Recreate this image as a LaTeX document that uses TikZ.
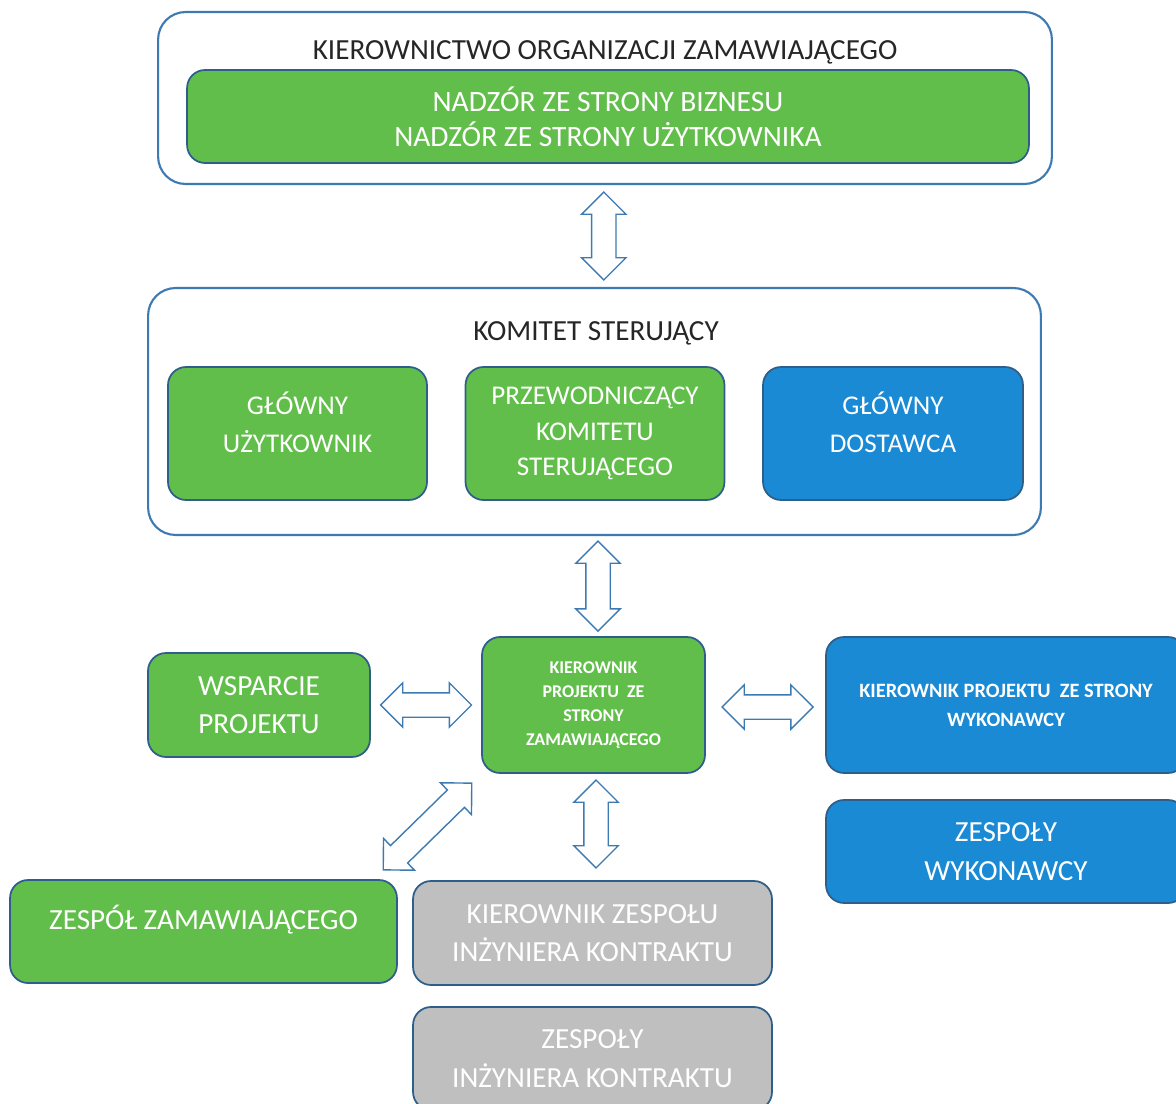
\documentclass[tikz,border=0pt]{standalone}
\usepackage{fontspec}
\setmainfont{Carlito}
\usetikzlibrary{arrows.meta,positioning,shapes.arrows,calc}

\definecolor{zielony}{RGB}{98,190,74}
\definecolor{niebieski}{RGB}{26,138,212}
\definecolor{szary}{RGB}{191,191,191}
\definecolor{ramka}{RGB}{46,94,138}
\definecolor{obrys}{RGB}{62,122,178}

\begin{document}
\begin{tikzpicture}[x=0.02cm, y=-0.02cm,
  every node/.style={font=\fontsize{16.6}{22}\selectfont, align=center},
  grupa/.style={draw=obrys, line width=1.2pt, rounded corners=0.55cm, fill=white},
  tytul/.style={text=black!85, font=\fontsize{16.6}{20}\selectfont},
  rola/.style={draw=ramka, line width=1pt, rounded corners=0.36cm, text=white},
  zielona/.style={rola, fill=zielony},
  niebieska/.style={rola, fill=niebieski},
  szara/.style={rola, fill=szary},
  komitetowa/.style={font=\fontsize{15.4}{21.6}\selectfont},
  maly/.style={font=\bfseries\fontsize{10.2}{13.7}\selectfont},
  wyzej/.style={text depth=#1},
  wyzej/.default=0.44cm,
  dwustronna/.style={double arrow, draw=obrys, fill=white, line width=0.8pt,
    inner xsep=0pt, inner ysep=0.23cm, double arrow head extend=0.2cm,
    minimum height=#1},
  dwustronna/.default=1.76cm]
  \useasboundingbox (0,0) rectangle (1176,1104);

  % kierownictwo
  \node[grupa, minimum width=17.88cm, minimum height=3.44cm] (kierownictwo) at (605,98) {};
  \node[tytul] (tytul1) at (605,52) {KIEROWNICTWO ORGANIZACJI ZAMAWIAJĄCEGO};
  \node[zielona, minimum width=16.84cm, minimum height=1.86cm, font=\fontsize{16.8}{19.9}\selectfont]
    (nadzor) at (608,116.5) {NADZÓR ZE STRONY BIZNESU\\NADZÓR ZE STRONY UŻYTKOWNIKA};

  % komitet sterujacy
  \node[grupa, minimum width=17.86cm, minimum height=4.94cm] (komitet) at (594.5,411.5) {};
  \node[tytul] (tytul2) at (596,333) {KOMITET STERUJĄCY};
  \node[zielona, komitetowa, wyzej, minimum width=5.18cm, minimum height=2.66cm]
    (uzytkownik) at (297.5,433.5) {GŁÓWNY\\UŻYTKOWNIK};
  \node[zielona, komitetowa, minimum width=5.18cm, minimum height=2.66cm, font=\fontsize{15.4}{20}\selectfont]
    (przewodniczacy) at (595,433.5) {PRZEWODNICZĄCY\\KOMITETU\\STERUJĄCEGO};
  \node[niebieska, komitetowa, wyzej, minimum width=5.2cm, minimum height=2.66cm]
    (dostawca) at (893,433.5) {GŁÓWNY\\DOSTAWCA};

  % poziom projektu
  \node[zielona, maly, minimum width=4.46cm, minimum height=2.72cm] (kpz) at (593.5,705)
    {KIEROWNIK\\PROJEKTU~~ZE\\STRONY\\ZAMAWIAJĄCEGO};
  \node[zielona, minimum width=4.44cm, minimum height=2.08cm, font=\fontsize{16.6}{21.6}\selectfont]
    (wsparcie) at (259,705) {WSPARCIE\\PROJEKTU};
  \node[niebieska, minimum width=7.2cm, minimum height=2.72cm, font=\bfseries\fontsize{11.6}{16.5}\selectfont]
    (kpw) at (1006,705) {KIEROWNIK PROJEKTU~~ZE STRONY\\WYKONAWCY};
  \node[niebieska, minimum width=7.2cm, minimum height=2.06cm]
    (zespolyw) at (1006,851.5) {ZESPOŁY\\WYKONAWCY};
  \node[zielona, wyzej=0.56cm, minimum width=7.74cm, minimum height=2.06cm] (zespolz) at (203.5,931.5)
    {ZESPÓŁ ZAMAWIAJĄCEGO};
  \node[szara, minimum width=7.18cm, minimum height=2.08cm]
    (kzik) at (592.5,933) {KIEROWNIK ZESPOŁU\\INŻYNIERA KONTRAKTU};
  \node[szara, minimum width=7.18cm, minimum height=2.06cm]
    (zik) at (592.5,1058.5) {ZESPOŁY\\INŻYNIERA KONTRAKTU};

  % strzalki
  \node[dwustronna, rotate=90] (s1) at ($(kierownictwo.south)!0.5!(komitet.north)+(4,0)$) {};
  \node[dwustronna=1.8cm, rotate=90] (s2) at ($(komitet.south)!0.5!(kpz.north)+(4,0)$) {};
  \node[dwustronna=1.82cm] (s3) at ($(wsparcie.east)!0.5!(kpz.west)$) {};
  \node[dwustronna=1.82cm] (s4) at ($(kpz.east)!0.5!(kpw.west)+(2,2)$) {};
  \node[dwustronna, rotate=90] (s5) at ($(kpz.south)!0.5!(kzik.north)+(3,-3)$) {};
  \node[dwustronna=2.48cm, rotate=44.4] (s6) at ($(kpz.south west)!0.5!(zespolz.north east)+(-12,0)$) {};
\end{tikzpicture}
\end{document}
